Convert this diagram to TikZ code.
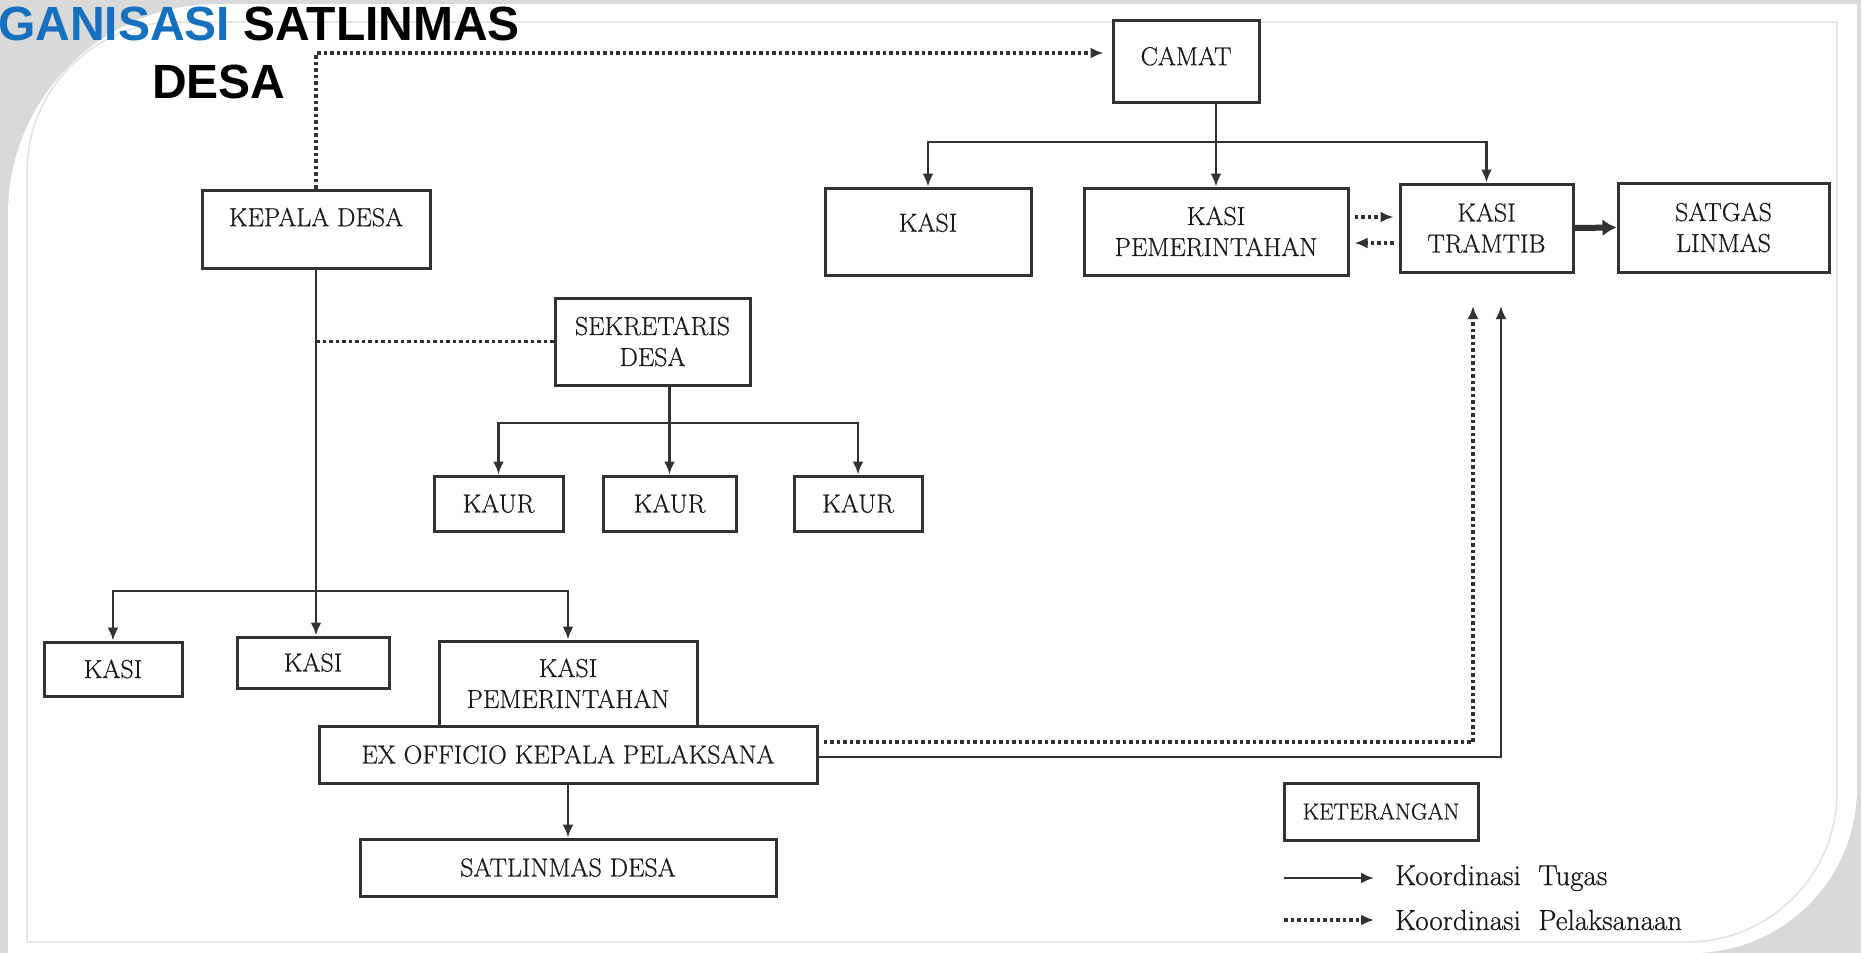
\documentclass[tikz,border=0pt]{standalone}
\usepackage{fontspec}
\newfontfamily\judulfont{Liberation Sans}
\newfontfamily\hurufkotak{Latin Modern Roman}[FakeBold=0.6]
\usetikzlibrary{arrows.meta}

\definecolor{tinta}{RGB}{50,50,50}
\definecolor{birujudul}{RGB}{22,112,190}

\begin{document}
\begin{tikzpicture}[x=1pt, y=-1pt,
  >={Latex[length=13pt, width=11pt]},
  kotak/.style={draw=tinta, line width=3pt, fill=white, inner sep=0pt, align=center,
    text=black!90, font=\hurufkotak\fontsize{26}{31}\selectfont},
  tugas/.style={draw=tinta, line width=2.5pt, ->},
  titik/.style={draw=tinta, line width=3.5pt, dash pattern=on 3.5pt off 3pt},
  pelaksanaan/.style={titik, ->},
  keterangan/.style={text=black!90, font=\hurufkotak\fontsize{29}{31}\selectfont}]

\useasboundingbox (0,0) rectangle (1861,953);

% Slide background
\fill[gray!30] (0,0) rectangle (1861,953);
\fill[white] (8,953) -- (8,214) arc[start angle=180, end angle=270, radius=210]
  -- (1857,4) -- (1857,788) arc[start angle=0, end angle=90, radius=165] -- cycle;
\draw[gray!22, line width=1.5pt] (27,942) -- (27,172) arc[start angle=180, end angle=270, radius=150]
  -- (1837,22) -- (1837,792) arc[start angle=0, end angle=90, radius=150] -- cycle;

% Title
\node[anchor=base west, inner sep=0pt, font=\judulfont\bfseries\fontsize{48}{50}\selectfont] (judul1) at (-2,40)
  {\textcolor{birujudul}{GANISASI} SATLINMAS};
\node[anchor=base west, inner sep=0pt, font=\judulfont\bfseries\fontsize{48}{50}\selectfont] (judul2) at (152,98) {DESA};

% Kecamatan
\node[kotak, minimum width=146, minimum height=82, text depth=10pt] (camat) at (1186,61) {CAMAT};
\node[kotak, minimum width=206, minimum height=87, text depth=18pt] (kasiA) at (928,231.5) {KASI};
\node[kotak, minimum width=264, minimum height=87] (kasipemA) at (1216,231.5) {KASI\\PEMERINTAHAN};
\node[kotak, minimum width=173, minimum height=88] (tramtib) at (1486.5,228) {KASI\\TRAMTIB};
\node[kotak, minimum width=211, minimum height=89] (satgas) at (1723.5,227.5) {SATGAS\\LINMAS};

% Desa
\node[kotak, minimum width=228, minimum height=78, text depth=24pt] (kades) at (316,229) {KEPALA DESA};
\node[kotak, minimum width=195, minimum height=87] (sekdes) at (652.5,341.5) {SEKRETARIS\\DESA};
\node[kotak, minimum width=129, minimum height=55] (kaur1) at (498.5,503.5) {KAUR};
\node[kotak, minimum width=133, minimum height=55] (kaur2) at (669.5,503.5) {KAUR};
\node[kotak, minimum width=128, minimum height=55] (kaur3) at (858,503.5) {KAUR};
\node[kotak, minimum width=138, minimum height=54] (kasiB1) at (113,669) {KASI};
\node[kotak, minimum width=152, minimum height=51] (kasiB2) at (313,662.5) {KASI};
\node[kotak, minimum width=258, minimum height=85] (kasipemB) at (568,683.5) {KASI\\PEMERINTAHAN};
\node[kotak, minimum width=498, minimum height=57] (exofficio) at (568,754.5) {EX OFFICIO KEPALA PELAKSANA};
\node[kotak, minimum width=416, minimum height=57] (satdesa) at (568,867.5) {SATLINMAS DESA};

% Legend
\node[kotak, minimum width=194, minimum height=57, font=\hurufkotak\fontsize{23}{31}\selectfont] (ket) at (1381,811.5) {KETERANGAN};
\node[keterangan, anchor=west, inner sep=0pt] (kettugas) at (1395,878) {Koordinasi~~Tugas};
\node[keterangan, anchor=west, inner sep=0pt] (ketlaksana) at (1395,920) {Koordinasi~~Pelaksanaan};

% Bend points
\coordinate (atas) at (0,53);
\coordinate (cabcamat) at (1216,142);
\coordinate (cabsek) at (669.5,423);
\coordinate (cabdesa) at (316,591);
\coordinate (ujung1) at (1473,306);
\coordinate (ujung2) at (1501,306);
\coordinate (pa) at ([yshift=14.5pt]kasipemA.east);
\coordinate (pb) at ([yshift=-11.5pt]kasipemA.east);
\coordinate (ex1) at ([yshift=12.5pt]exofficio.east);
\coordinate (ex2) at ([yshift=-2.5pt]exofficio.east);

% Kepala desa to camat
\draw[pelaksanaan, shorten >=8pt] (kades.north) |- (camat.west |- atas);

% Camat lines
\draw[tugas] (camat.south -| cabcamat) -- (kasipemA.north -| cabcamat);
\draw[tugas] (cabcamat) -| (kasiA.north);
\draw[tugas] (cabcamat) -| (tramtib.north);
\draw[pelaksanaan, shorten <=5pt, shorten >=5pt] (pa) -- (pa -| tramtib.west);
\draw[pelaksanaan, shorten <=5pt, shorten >=5pt] (pb -| tramtib.west) -- (pb);
\draw[draw=tinta, line width=6pt, -{Latex[length=14pt, width=17pt]}] (tramtib.east) -- (satgas.west);

% Desa lines
\draw[tugas] (kades.south) -- (kades.south |- kasiB2.north);
\draw[titik] (kades.south |- sekdes.west) -- (sekdes.west);
\draw[tugas] (cabdesa) -| (kasiB1.north);
\draw[tugas] (cabdesa) -| (kasipemB.north);
\draw[tugas] (sekdes.south -| cabsek) -- (kaur2.north);
\draw[tugas] (cabsek) -| (kaur1.north);
\draw[tugas] (cabsek) -| (kaur3.north);
\draw[tugas] (exofficio.south) -- (satdesa.north);

% Ex officio to kasi tramtib
\draw[pelaksanaan, shorten <=5pt] (ex1) -| (ujung1);
\draw[tugas] (ex2) -| (ujung2);

% Legend arrows
\draw[tugas] ([xshift=-111pt]kettugas.west) -- ([xshift=-21pt]kettugas.west);
\draw[pelaksanaan] ([xshift=-111pt]ketlaksana.west) -- ([xshift=-21pt]ketlaksana.west);

\end{tikzpicture}
\end{document}
